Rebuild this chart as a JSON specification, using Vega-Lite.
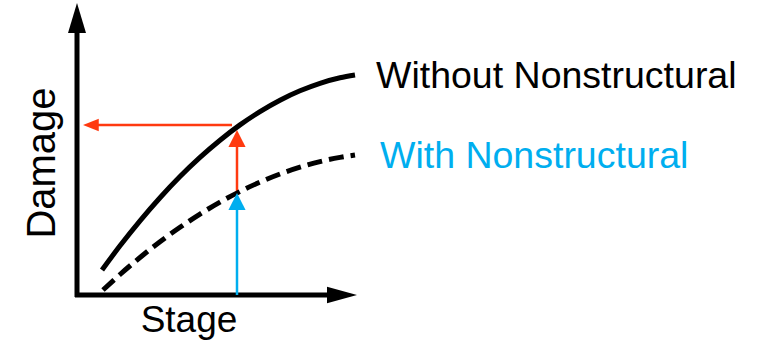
{
  "$schema": "https://vega.github.io/schema/vega-lite/v6.json",
  "width": 761,
  "height": 348,
  "autosize": {"type": "fit", "contains": "padding"},
  "padding": 0,
  "background": "white",
  "config": {"view": {"stroke": null}},
  "resolve": {"scale": {"color": "independent", "shape": "independent"}},
  "datasets": {
    "curves": [
      {"series": "Without", "stage": 102, "damage": 78},
      {"series": "Without", "stage": 120, "damage": 102.2},
      {"series": "Without", "stage": 140, "damage": 127.2},
      {"series": "Without", "stage": 160, "damage": 150.3},
      {"series": "Without", "stage": 180, "damage": 171.5},
      {"series": "Without", "stage": 200, "damage": 190.6},
      {"series": "Without", "stage": 220, "damage": 207.8},
      {"series": "Without", "stage": 240, "damage": 223.1},
      {"series": "Without", "stage": 260, "damage": 236.4},
      {"series": "Without", "stage": 280, "damage": 247.8},
      {"series": "Without", "stage": 300, "damage": 257.2},
      {"series": "Without", "stage": 320, "damage": 264.7},
      {"series": "Without", "stage": 340, "damage": 270.2},
      {"series": "Without", "stage": 355, "damage": 273},
      {"series": "With", "stage": 103, "damage": 58},
      {"series": "With", "stage": 120, "damage": 73.5},
      {"series": "With", "stage": 140, "damage": 90.5},
      {"series": "With", "stage": 160, "damage": 106.3},
      {"series": "With", "stage": 180, "damage": 120.7},
      {"series": "With", "stage": 200, "damage": 133.9},
      {"series": "With", "stage": 220, "damage": 145.9},
      {"series": "With", "stage": 240, "damage": 156.5},
      {"series": "With", "stage": 260, "damage": 165.9},
      {"series": "With", "stage": 280, "damage": 174},
      {"series": "With", "stage": 300, "damage": 180.8},
      {"series": "With", "stage": 320, "damage": 186.4},
      {"series": "With", "stage": 340, "damage": 190.6},
      {"series": "With", "stage": 355, "damage": 193}
    ],
    "axes": [
      {"name": "yaxis", "x": 77, "y": 51, "x2": 77, "y2": 318},
      {"name": "xaxis", "x": 75, "y": 53, "x2": 330, "y2": 53}
    ],
    "arrows": [
      {"name": "blue", "x": 237, "y": 53, "x2": 237, "y2": 141},
      {"name": "redup", "x": 237, "y": 155, "x2": 237, "y2": 206},
      {"name": "redleft", "x": 232, "y": 223, "x2": 96, "y2": 223}
    ],
    "bigheads": [
      {"name": "yaxis", "x": 77, "y": 345, "dir": "up"},
      {"name": "xaxis", "x": 357, "y": 53, "dir": "right"}
    ],
    "smallheads": [
      {"name": "blue", "x": 237, "y": 155, "dir": "up"},
      {"name": "redup", "x": 237, "y": 218, "dir": "up"},
      {"name": "redleft", "x": 83, "y": 223, "dir": "left"}
    ],
    "labels": [
      {"text": "Without Nonstructural", "x": 376, "y": 260, "kind": "without"},
      {"text": "With Nonstructural", "x": 380, "y": 180, "kind": "with"}
    ],
    "titles": [
      {"text": "Stage", "x": 189, "y": 16}
    ],
    "ytitle": [
      {"text": "Damage", "x": 55, "y": 185}
    ]
  },
  "layer": [
    {
      "data": {"name": "axes"},
      "mark": {"type": "rule", "color": "black", "strokeWidth": 5, "clip": false},
      "encoding": {
        "x": {"field": "x", "type": "quantitative", "scale": {"domain": [0, 761], "nice": false, "zero": false}, "axis": null},
        "y": {"field": "y", "type": "quantitative", "scale": {"domain": [0, 348], "nice": false, "zero": false}, "axis": null},
        "x2": {"field": "x2"},
        "y2": {"field": "y2"}
      }
    },
    {
      "data": {"name": "bigheads"},
      "mark": {"type": "point", "filled": true, "color": "black", "opacity": 1, "strokeWidth": 0, "clip": false, "size": 900},
      "encoding": {
        "x": {"field": "x", "type": "quantitative"},
        "y": {"field": "y", "type": "quantitative"},
        "shape": {"field": "dir", "type": "nominal", "legend": null, "scale": {"domain": ["up", "right"], "range": ["M0,0L-0.6,2L0.6,2Z", "M0,0L-2,-0.55L-2,0.55Z"]}}
      }
    },
    {
      "data": {"name": "arrows"},
      "mark": {"type": "rule", "strokeWidth": 2.5, "clip": false},
      "encoding": {
        "x": {"field": "x", "type": "quantitative"},
        "y": {"field": "y", "type": "quantitative"},
        "x2": {"field": "x2"},
        "y2": {"field": "y2"},
        "color": {"field": "name", "type": "nominal", "legend": null, "scale": {"domain": ["blue", "redup", "redleft"], "range": ["#00AEEF", "#FF3A10", "#FF3A10"]}}
      }
    },
    {
      "data": {"name": "curves"},
      "transform": [{"filter": "datum.series === 'Without'"}],
      "mark": {"type": "line", "color": "black", "strokeWidth": 5, "interpolate": "monotone", "clip": false},
      "encoding": {
        "x": {"field": "stage", "type": "quantitative"},
        "y": {"field": "damage", "type": "quantitative"}
      }
    },
    {
      "data": {"name": "curves"},
      "transform": [{"filter": "datum.series === 'With'"}],
      "mark": {"type": "line", "color": "black", "strokeWidth": 5, "strokeDash": [15, 7], "interpolate": "monotone", "clip": false},
      "encoding": {
        "x": {"field": "stage", "type": "quantitative"},
        "y": {"field": "damage", "type": "quantitative"}
      }
    },
    {
      "data": {"name": "smallheads"},
      "mark": {"type": "point", "filled": true, "opacity": 1, "strokeWidth": 0, "clip": false, "size": 324},
      "encoding": {
        "x": {"field": "x", "type": "quantitative"},
        "y": {"field": "y", "type": "quantitative"},
        "shape": {"field": "dir", "type": "nominal", "legend": null, "scale": {"domain": ["up", "left"], "range": ["M0,0L-0.95,1.9L0.95,1.9Z", "M0,0L1.75,-0.7L1.75,0.7Z"]}},
        "color": {"field": "name", "type": "nominal", "legend": null, "scale": {"domain": ["blue", "redup", "redleft"], "range": ["#00AEEF", "#FF3A10", "#FF3A10"]}}
      }
    },
    {
      "data": {"name": "labels"},
      "mark": {"type": "text", "align": "left", "baseline": "alphabetic", "font": "Liberation Sans", "fontSize": 37.5, "clip": false},
      "encoding": {
        "x": {"field": "x", "type": "quantitative"},
        "y": {"field": "y", "type": "quantitative"},
        "text": {"field": "text"},
        "color": {"field": "kind", "type": "nominal", "legend": null, "scale": {"domain": ["without", "with"], "range": ["#000000", "#00AEEF"]}}
      }
    },
    {
      "data": {"name": "titles"},
      "mark": {"type": "text", "align": "center", "baseline": "alphabetic", "font": "Liberation Sans", "fontSize": 37, "color": "black", "clip": false},
      "encoding": {
        "x": {"field": "x", "type": "quantitative"},
        "y": {"field": "y", "type": "quantitative"},
        "text": {"field": "text"}
      }
    },
    {
      "data": {"name": "ytitle"},
      "mark": {"type": "text", "align": "center", "baseline": "alphabetic", "angle": 270, "font": "Liberation Sans", "fontSize": 40, "color": "black", "clip": false},
      "encoding": {
        "x": {"field": "x", "type": "quantitative"},
        "y": {"field": "y", "type": "quantitative"},
        "text": {"field": "text"}
      }
    }
  ]
}
